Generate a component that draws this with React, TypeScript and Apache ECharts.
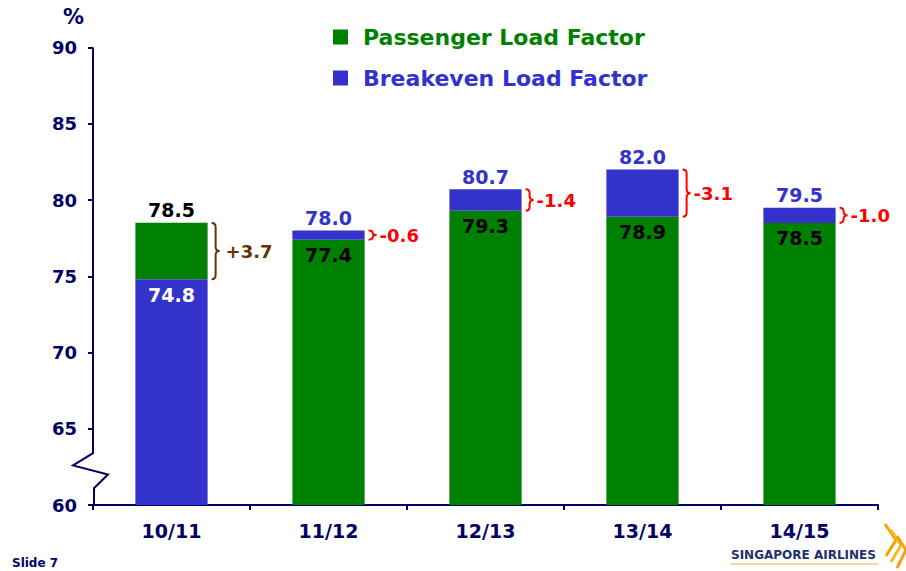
import React, { useEffect, useRef } from "react";
import * as echarts from "echarts";

const categories = ["10/11", "11/12", "12/13", "13/14", "14/15"];
const passengerLoadFactor = [78.5, 77.4, 79.3, 78.9, 78.5];
const breakevenLoadFactor = [74.8, 78.0, 80.7, 82.0, 79.5];
const axisBreakValues = [63.4, 62.6, 62.0, 61.1];

const GREEN = "#008000";
const BLUE = "#3333CC";
const NAVY = "#000066";
const BROWN = "#663300";
const RED = "#FF0000";
const FONT = '"DejaVu Sans", Verdana, sans-serif';

export default function App() {
  const ref = useRef<HTMLDivElement>(null);

  useEffect(() => {
    if (!ref.current) return;
    const chart = echarts.init(ref.current, null, { renderer: "svg" });

    const lower = categories.map((_, i) => Math.min(passengerLoadFactor[i], breakevenLoadFactor[i]));
    const upper = categories.map((_, i) => Math.max(passengerLoadFactor[i], breakevenLoadFactor[i]));
    const diff = categories.map((_, i) => Math.round((upper[i] - lower[i]) * 10) / 10);
    const passengerOnTop = categories.map((_, i) => passengerLoadFactor[i] > breakevenLoadFactor[i]);

    const bottomData = lower.map((v, i) => ({
      value: v,
      itemStyle: { color: passengerOnTop[i] ? BLUE : GREEN },
      label: { color: passengerOnTop[i] ? "#FFFFFF" : "#000000" },
    }));
    const topData = diff.map((v, i) => ({
      value: v,
      itemStyle: { color: passengerOnTop[i] ? GREEN : BLUE },
      label: { color: passengerOnTop[i] ? "#000000" : BLUE },
    }));

    chart.setOption({
      animation: false,
      grid: { left: 93, right: 28, top: 47.5, bottom: 66, containLabel: false },
      legend: {
        orient: "vertical",
        left: 333,
        top: 26,
        padding: 0,
        icon: "rect",
        itemWidth: 15,
        itemHeight: 15,
        itemGap: 19,
        selectedMode: false,
        textStyle: {
          fontFamily: FONT,
          fontWeight: "bold",
          fontSize: 22,
          padding: [0, 0, 0, 10],
        },
        data: [
          { name: "Passenger Load Factor", itemStyle: { color: GREEN }, textStyle: { color: GREEN } },
          { name: "Breakeven Load Factor", itemStyle: { color: BLUE }, textStyle: { color: BLUE } },
        ],
      },
      xAxis: {
        type: "category",
        data: categories,
        axisLine: { show: true, lineStyle: { color: NAVY, width: 2 } },
        axisTick: { show: true, length: 5, inside: false, lineStyle: { color: NAVY, width: 2 } },
        axisLabel: {
          color: NAVY,
          fontFamily: FONT,
          fontWeight: "bold",
          fontSize: 19,
          margin: 16,
        },
      },
      yAxis: {
        type: "value",
        min: 60,
        max: 90,
        interval: 5,
        splitLine: { show: false },
        axisLine: { show: false },
        axisTick: { show: true, length: 5, lineStyle: { color: NAVY, width: 2 } },
        axisLabel: {
          color: NAVY,
          fontFamily: FONT,
          fontWeight: "bold",
          fontSize: 18,
          margin: 16,
        },
      },
      series: [
        {
          name: "Passenger Load Factor",
          type: "bar",
          stack: "lf",
          barWidth: "46%",
          itemStyle: { color: GREEN },
          label: {
            show: true,
            position: "insideTop",
            distance: 6,
            fontFamily: FONT,
            fontWeight: "bold",
            fontSize: 19,
            formatter: (p: any) => lower[p.dataIndex].toFixed(1),
          },
          data: bottomData,
        },
        {
          name: "Breakeven Load Factor",
          type: "bar",
          stack: "lf",
          barWidth: "46%",
          itemStyle: { color: BLUE },
          label: {
            show: true,
            position: "top",
            distance: 3,
            fontFamily: FONT,
            fontWeight: "bold",
            fontSize: 19,
            formatter: (p: any) => upper[p.dataIndex].toFixed(1),
          },
          data: topData,
        },
        {
          name: "braces",
          type: "custom",
          silent: true,
          clip: false,
          z: 5,
          data: categories.map((_, i) => [i, passengerLoadFactor[i], breakevenLoadFactor[i]]),
          renderItem: (params: any, api: any) => {
            const i = api.value(0);
            const p = api.value(1);
            const b = api.value(2);
            const hi = api.coord([i, Math.max(p, b)]);
            const lo = api.coord([i, Math.min(p, b)]);
            const half = (api.size([1, 0])[0] * 0.46) / 2;
            const x0 = hi[0] + half + 4;
            const w = 8;
            const yT = hi[1];
            const yB = lo[1];
            const ym = (yT + yB) / 2;
            const r = Math.min(4, (yB - yT) / 4);
            const xm = x0 + w / 2;
            const d = Math.round((p - b) * 10) / 10;
            const color = d >= 0 ? BROWN : RED;
            const text = (d >= 0 ? "+" : "-") + Math.abs(d).toFixed(1);
            const pathData =
              `M${x0},${yT} Q${xm},${yT} ${xm},${yT + r} L${xm},${ym - r} ` +
              `Q${xm},${ym} ${x0 + w},${ym} Q${xm},${ym} ${xm},${ym + r} ` +
              `L${xm},${yB - r} Q${xm},${yB} ${x0},${yB}`;
            return {
              type: "group",
              children: [
                {
                  type: "path",
                  shape: { pathData },
                  style: { stroke: color, lineWidth: 2, fill: "none" },
                },
                {
                  type: "text",
                  style: {
                    text,
                    x: x0 + w + (d >= 0 ? 6 : 3),
                    y: ym,
                    fill: color,
                    font: `bold 18px ${FONT}`,
                    verticalAlign: "middle",
                    align: "left",
                  },
                },
              ],
            };
          },
        },
        {
          name: "axisWithBreak",
          type: "custom",
          silent: true,
          clip: false,
          z: 6,
          data: [[0, 60]],
          renderItem: (params: any, api: any) => {
            const cs = params.coordSys;
            const xA = cs.x;
            const yv = (v: number) => api.coord([0, v])[1];
            const points = [
              [xA, cs.y],
              [xA, yv(axisBreakValues[0])],
              [xA - 20, yv(axisBreakValues[1])],
              [xA + 15, yv(axisBreakValues[2])],
              [xA + 1, yv(axisBreakValues[3])],
              [xA + 1, cs.y + cs.height],
            ];
            return {
              type: "polyline",
              shape: { points },
              style: { stroke: NAVY, lineWidth: 2, fill: "none" },
            };
          },
        },
      ],
      graphic: [
        {
          type: "text",
          left: 63,
          top: 6,
          style: { text: "%", fill: NAVY, font: `bold 21px ${FONT}` },
        },
        {
          type: "text",
          left: 12,
          top: 557,
          style: { text: "Slide 7", fill: NAVY, font: `bold 12px ${FONT}` },
        },
        {
          type: "text",
          left: 731,
          top: 549,
          style: { text: "SINGAPORE AIRLINES", fill: "#1f2f6f", font: `bold 12px ${FONT}` },
        },
        {
          type: "line",
          shape: { x1: 731, y1: 564, x2: 878, y2: 564 },
          style: { stroke: "#F2B233", lineWidth: 1 },
        },
        {
          type: "group",
          children: [
            {
              type: "polyline",
              shape: { points: [[885, 524], [896, 540], [886, 556]] },
              style: { stroke: "#F5A300", lineWidth: 3, fill: "none" },
            },
            {
              type: "polyline",
              shape: { points: [[891, 530], [901, 545], [891, 562]] },
              style: { stroke: "#F8B820", lineWidth: 3, fill: "none" },
            },
            {
              type: "polyline",
              shape: { points: [[897, 536], [906, 550], [897, 568]] },
              style: { stroke: "#F5A300", lineWidth: 3, fill: "none" },
            },
          ],
        },
      ],
    });

    return () => chart.dispose();
  }, []);

  return <div ref={ref} style={{ width: 906, height: 571, position: "absolute", left: 0, top: 0 }} />;
}
